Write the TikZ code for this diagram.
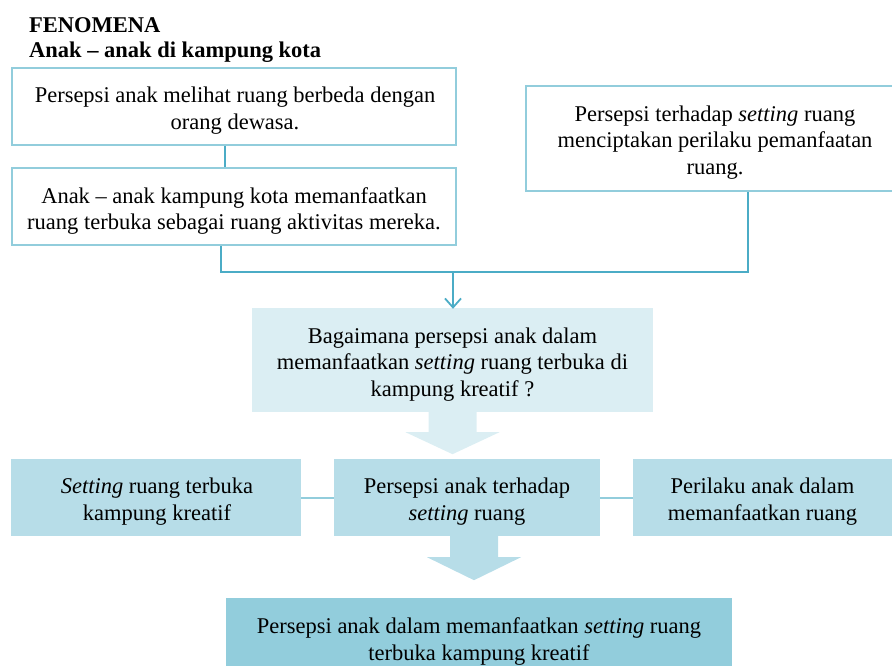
\documentclass[tikz,border=0pt]{standalone}
\usepackage{fontspec}
\setmainfont{Liberation Serif}
\usetikzlibrary{arrows.meta,calc}
\definecolor{bordc}{HTML}{92CDDC}
\definecolor{linec}{HTML}{4BACC6}
\definecolor{fillA}{HTML}{DBEEF3}
\definecolor{fillB}{HTML}{B7DDE8}
\definecolor{fillC}{HTML}{92CDDC}
\begin{document}
\begin{tikzpicture}[x=1pt,y=-1pt,
  txt/.style={font=\fontsize{22.5}{26.5}\selectfont, align=center, inner sep=0pt},
  wbox/.style={draw=bordc, line width=2pt, fill=white, inner sep=0pt},
  sbox/.style={draw=none, inner sep=0pt},
  conn/.style={draw=linec, line width=1.8pt},
  rconn/.style={draw=bordc, line width=2pt},
  arr/.style={conn, -{Straight Barb[length=9pt,width=16pt,line width=1.8pt]}},
  titl/.style={font=\bfseries\fontsize{22.5}{26}\selectfont, anchor=west, inner sep=0pt}
]
\useasboundingbox (0,0) rectangle (892,666);
\begin{scope}
\clip (0,0) rectangle (892,666);
\node[titl] (t1) at (29,25) {FENOMENA};
\node[titl] (t2) at (29,52) {Anak -- anak di kampung kota};

\node[wbox, minimum width=444pt, minimum height=77pt] (b1) at (234,106.5) {};
\node[txt] (b1t) at ($(b1)+(1,4)$) {Persepsi anak melihat ruang berbeda dengan\\orang dewasa.};
\node[wbox, minimum width=444pt, minimum height=77pt] (b2) at (234,206.5) {};
\node[txt] (b2t) at ($(b2)+(0,4.5)$) {Anak -- anak kampung kota memanfaatkan\\ruang terbuka sebagai ruang aktivitas mereka.};
\node[wbox, minimum width=378pt, minimum height=105pt] (br) at (715,138.5) {};
\node[txt] (brt) at ($(br)+(0,4)$) {Persepsi terhadap \textit{setting} ruang\\menciptakan perilaku pemanfaatan\\ruang.};

\node[sbox, fill=fillA, minimum width=401pt, minimum height=104pt] (q) at (452.5,360) {};
\node[txt] (qt) at ($(q)+(0,4.5)$) {Bagaimana persepsi anak dalam\\memanfaatkan \textit{setting} ruang terbuka di\\kampung kreatif ?};

\node[sbox, fill=fillB, minimum width=290pt, minimum height=77pt] (l) at (156,497.5) {};
\node[txt] (lt) at ($(l)+(1,4)$) {\textit{Setting} ruang terbuka\\kampung kreatif};
\node[sbox, fill=fillB, minimum width=266pt, minimum height=77pt] (m) at (467,497.5) {};
\node[txt] (mt) at ($(m)+(0,4)$) {Persepsi anak terhadap\\\textit{setting} ruang};
\node[sbox, fill=fillB, minimum width=259pt, minimum height=77pt] (r) at (762.5,497.5) {};
\node[txt] (rt) at ($(r)+(0,4)$) {Perilaku anak dalam\\memanfaatkan ruang};

\node[sbox, fill=fillC, minimum width=506pt, minimum height=84pt] (f) at (479,640) {};
\node[txt] (ft) at ($(f)+(0,1.5)$) {Persepsi anak dalam memanfaatkan \textit{setting} ruang\\terbuka kampung kreatif};

\coordinate (j) at (453,272);
\draw[conn] ([xshift=-9pt]b1.south) -- ([xshift=-9pt]b1.south |- b2.north);
\draw[conn] ([xshift=-13pt]b2.south) |- (j) -| ([xshift=33pt]br.south);
\draw[arr] (j) -- ([yshift=-1pt]q.north -| j);

\draw[rconn] (l.east) -- (m.west);
\draw[rconn] (m.east) -- (r.west);

\fill[fillA] ($(q.south)+(-24,0)$) -- ++(0,20) -- ++(-23,0)
  -- ++(47,22) -- ++(47,-22) -- ++(-23,0) -- ++(0,-20) -- cycle;
\fill[fillB] ($(m.south)+(-17,0)$) -- ++(0,21) -- ++(-23,0)
  -- ++(47,23) -- ++(47,-23) -- ++(-23,0) -- ++(0,-21) -- cycle;
\end{scope}
\end{tikzpicture}
\end{document}
